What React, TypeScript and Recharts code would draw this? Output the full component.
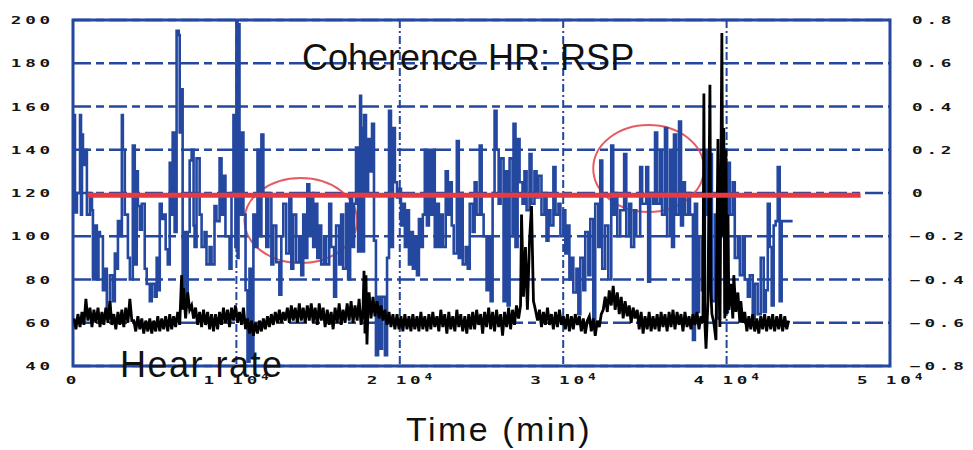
import React from 'react';
import { ComposedChart, Line, XAxis, YAxis, CartesianGrid, ReferenceArea } from 'recharts';

const BLUE = '#2447a0';
const RED = '#e63a42';

const timeTicks = [0, 10000, 20000, 30000, 40000, 50000];
const hrTicks = [40, 60, 80, 100, 120, 140, 160, 180, 200];
const cohTicks = [-0.8, -0.6, -0.4, -0.2, 0, 0.2, 0.4, 0.6, 0.8];

const titleText = 'Coherence HR: RSP';
const hrLabel = 'Hear rate';
const timeLabel = 'Time (min)';

// coherence HR:RSP  [time, coherence]
const coherence: [number, number][] = [
  [60,0.36],[120,-0.09],[240,0.0],[430,0.36],[490,-0.1],[550,0.27],[610,0.13],[730,0.2],[850,-0.1],[1040,0.0],[1160,-0.08],[1220,-0.4],[1340,-0.15],[1460,-0.4],[1560,-0.18],[1650,-0.2],[1830,-0.45],[1950,-0.35],[2070,-0.58],[2260,-0.38],[2440,-0.5],[2560,-0.28],[2680,-0.35],[2750,-0.13],[2870,-0.2],[2990,0.36],[3050,0.2],[3170,-0.1],[3360,-0.3],[3480,-0.4],[3660,0.22],[3780,-0.33],[3900,0.1],[3970,-0.06],[4090,-0.17],[4210,-0.05],[4390,-0.35],[4510,-0.42],[4700,-0.5],[4820,-0.42],[5000,-0.48],[5120,-0.3],[5190,-0.45],[5310,-0.05],[5430,-0.12],[5550,-0.1],[5670,-0.26],[5800,-0.33],[5920,0.14],[6040,-0.1],[6100,0.28],[6220,-0.18],[6340,0.75],[6470,0.73],[6530,0.28],[6650,0.48],[6710,-0.5],[6830,-0.18],[6950,-0.5],[7020,-0.18],[7140,0.15],[7260,0.2],[7380,-0.15],
  [7440,-0.25],[7560,0.16],[7750,-0.1],[7870,-0.25],[8050,-0.18],[8170,-0.33],[8360,-0.25],[8480,-0.33],[8660,-0.06],[8780,-0.13],[8970,0.16],[9090,-0.1],[9210,0.08],[9330,-0.2],[9580,-0.35],[9700,0.0],[9820,0.36],[9940,-0.25],[10000,0.8],[10070,-0.3],[10130,0.78],[10190,-0.1],[10310,0.28],[10430,-0.1],[10560,-0.45],[10680,-0.78],[10800,-0.35],[10920,-0.76],[11040,-0.1],[11160,-0.25],[11290,0.2],[11410,-0.2],[11530,0.27],[11650,0.0],[11830,-0.25],[11960,0.0],[12140,-0.33],[12260,-0.15],[12440,-0.32],[12630,-0.47],[12750,-0.2],[12870,-0.05],[13050,-0.28],[13240,-0.02],[13360,-0.35],[13480,-0.1],[13660,-0.32],[13850,-0.2],[13970,-0.38],[14090,-0.1],[14210,-0.3],[14340,0.04],[14460,-0.2],[14580,0.0],[14700,-0.25],
  [14820,-0.05],[14950,-0.3],[15070,-0.15],[15190,-0.33],[15370,-0.2],[15490,-0.33],[15680,-0.05],[15800,-0.25],[15980,-0.48],[16100,-0.15],[16290,-0.33],[16410,-0.1],[16530,-0.35],[16710,-0.05],[16840,-0.4],[16960,-0.02],[17080,-0.25],[17200,-0.05],[17320,0.21],[17450,-0.27],[17570,0.45],[17630,0.3],[17690,-0.27],[17810,0.36],[17930,0.0],[18060,0.25],[18180,0.1],[18300,0.32],[18420,-0.22],[18540,-0.75],[18670,-0.48],[18790,-0.72],[18910,-0.48],[19090,-0.75],[19220,-0.3],[19340,0.38],[19460,-0.25],[19580,0.3],[19700,0.05],[19830,-0.02],[19950,0.02],[20070,-0.15],[20190,-0.05],[20310,-0.25],[20440,-0.08],[20560,-0.33],[20680,-0.18],[20800,-0.35],[20920,-0.2],[21050,-0.38],[21170,-0.12],[21290,-0.25],[21410,-0.1],[21530,0.2],[21660,-0.15],[21780,0.2],[21900,-0.1],
  [22020,0.2],[22140,-0.25],[22270,-0.05],[22390,-0.25],[22510,-0.1],[22630,-0.25],[22810,0.1],[22940,-0.1],[23060,0.05],[23180,-0.15],[23300,-0.28],[23490,0.24],[23610,-0.3],[23730,0.0],[23850,-0.33],[24030,-0.25],[24160,-0.35],[24280,-0.05],[24460,-0.18],[24580,0.05],[24700,-0.1],[24890,0.22],[25010,-0.1],[25130,-0.2],[25310,-0.45],[25440,-0.2],[25560,-0.5],[25680,0.0],[25800,0.38],[25920,0.2],[26050,-0.05],[26170,0.16],[26350,-0.5],[26470,0.1],[26600,-0.52],[26720,0.16],[26900,-0.2],[26960,0.32],[27080,-0.25],[27210,0.25],[27330,0.05],[27510,-0.05],[27630,0.1],[27760,-0.08],[27940,0.18],[28060,-0.05],[28240,0.1],[28370,-0.02],[28490,0.08],[28670,-0.1],[28850,0.0],[28980,-0.22],[29100,-0.08],
  [29220,-0.15],[29400,0.12],[29530,-0.1],[29710,-0.05],[29830,-0.2],[30010,-0.08],[30130,-0.28],[30260,-0.15],[30380,-0.4],[30500,-0.3],[30620,-0.46],[30810,-0.35],[30930,-0.56],[31050,-0.3],[31230,-0.45],[31350,-0.18],[31540,-0.38],[31660,-0.12],[31840,-0.6],[31960,-0.05],[32150,-0.25],[32270,0.15],[32390,-0.35],[32570,-0.15],[32760,-0.4],[32940,0.22],[33060,-0.1],[33180,0.0],[33310,-0.2],[33490,-0.08],[33730,0.18],[33860,-0.2],[34040,-0.05],[34160,-0.25],[34340,-0.08],[34470,-0.2],[34710,0.12],[34830,-0.05],[35080,0.12],[35200,-0.41],[35320,0.0],[35500,-0.05],[35620,0.28],[35750,-0.05],[35930,0.2],[36050,-0.1],[36230,0.3],[36360,-0.2],[36540,0.2],
  [36660,-0.25],[36780,0.27],[36910,-0.1],[37090,0.33],[37210,-0.15],[37330,0.05],[37450,-0.1],[37640,0.0],[37760,-0.1],[37940,-0.68],[38060,-0.05],[38190,-0.55],[38310,-0.2],[38490,-0.45],[38670,0.2],[38790,-0.1],[38980,0.18],[39100,-0.5],[39280,-0.1],[39410,-0.58],[39590,-0.2],[39770,0.2],[39890,-0.55],[40080,0.14],[40200,-0.1],[40380,0.05],[40500,-0.3],[40690,-0.2],[40810,-0.38],[40990,-0.2],[41110,-0.4],[41300,-0.48],[41420,-0.38],[41600,-0.58],[41720,-0.42],[41900,-0.56],[42090,-0.3],[42270,-0.55],[42400,-0.45],[42520,-0.05],[42640,-0.25],[42760,-0.52],[42880,-0.15],[43000,-0.13],[43130,0.12],[43250,-0.5],[43370,-0.13],[44040,-0.13],
];

// heart rate [time, bpm]
const heartRate: [number, number][] = [
  [60,62],[180,57],[300,64],[430,58],[550,65],[670,59],[790,71],[910,61],[1040,67],[1160,58],[1280,66],[1400,60],[1530,67],[1650,58],[1770,65],[1890,59],[2010,67],[2140,60],[2260,70],[2380,59],[2500,64],[2620,57],[2750,65],[2870,59],[2990,66],[3110,58],[3230,67],[3360,60],[3480,71],[3600,61],[3720,61],[3840,56],[3970,63],[4090,57],[4210,62],[4330,55],[4450,61],[4580,56],[4700,62],[4820,55],[4940,61],[5060,56],[5190,63],[5310,56],[5430,62],[5550,57],[5670,63],[5800,56],[5920,64],[6040,57],[6160,63],[6280,58],[6410,65],[6530,59],[6650,82],[6710,66],[6770,76],[6890,62],[7020,74],[7140,66],[7260,68],[7380,62],
  [7500,67],[7630,59],[7750,65],[7870,58],[7990,66],[8110,59],[8240,65],[8360,57],[8480,64],[8600,56],[8720,64],[8850,57],[8970,65],[9090,59],[9210,67],[9330,60],[9460,66],[9580,58],[9700,67],[9820,61],[9940,68],[10070,60],[10190,65],[10310,59],[10430,67],[10560,57],[10680,62],[10800,55],[10920,61],[11040,54],[11160,60],[11290,55],[11410,61],[11530,56],[11650,62],[11770,57],[11900,63],[12020,58],[12140,64],[12260,59],[12380,65],[12510,60],[12630,66],[12750,60],[12870,65],[12990,61],[13120,67],[13240,60],[13360,68],[13480,61],[13600,67],[13730,60],[13850,69],[13970,61],[14090,67],[14210,60],[14340,68],[14460,61],[14580,69],[14700,60],
  [14820,67],[14950,59],[15070,69],[15190,61],[15310,67],[15430,58],[15560,66],[15680,59],[15800,65],[15920,57],[16040,67],[16170,60],[16290,69],[16410,59],[16530,66],[16650,60],[16780,69],[16900,61],[17020,70],[17140,60],[17260,68],[17390,61],[17510,71],[17630,59],[17750,66],[17810,84],[17870,55],[17930,82],[17990,50],[18060,68],[18120,74],[18240,62],[18360,72],[18480,63],[18610,70],[18730,62],[18850,68],[18970,61],[19090,66],[19220,59],[19340,65],[19460,58],[19580,64],[19700,57],[19830,64],[19950,57],[20070,63],[20190,56],[20310,64],[20440,57],[20560,63],[20680,56],[20800,64],[20920,57],[21050,63],[21170,56],[21290,65],[21410,57],[21530,63],[21660,56],[21780,64],[21900,57],
  [22020,65],[22140,58],[22270,63],[22390,56],[22510,66],[22630,58],[22750,64],[22880,55],[23000,65],[23120,57],[23240,63],[23370,56],[23490,66],[23610,58],[23730,64],[23850,56],[23980,63],[24100,55],[24220,64],[24340,57],[24460,65],[24580,57],[24700,66],[24830,59],[24950,64],[25070,55],[25190,65],[25310,58],[25440,67],[25560,57],[25680,65],[25800,56],[25920,66],[26050,58],[26170,64],[26290,54],[26410,65],[26540,58],[26660,67],[26780,57],[26900,66],[27020,59],[27140,68],[27270,62],[27390,68],[27450,110],[27570,72],[27690,95],[27810,66],[27940,98],[28060,114],[28180,70],[28300,66],[28430,61],[28550,66],[28670,58],[28790,65],[28910,59],[29040,67],
  [29160,59],[29280,64],[29400,57],[29530,65],[29650,58],[29770,66],[29890,59],[30010,63],[30130,57],[30260,64],[30380,56],[30500,63],[30620,57],[30740,64],[30870,59],[30990,63],[31110,56],[31230,62],[31350,55],[31480,61],[31600,63],[31720,56],[31840,62],[31960,54],[32090,61],[32210,58],[32330,64],[32450,66],[32570,72],[32700,65],[32820,75],[32940,68],[33060,77],[33180,66],[33310,74],[33430,64],[33550,72],[33670,62],[33790,70],[33920,63],[34040,68],[34160,60],[34280,67],[34400,62],[34530,66],[34650,57],[34770,65],[34890,55],[35010,63],[35140,57],[35260,65],[35380,56],[35500,63],[35620,57],[35750,64],[35870,56],[35990,65],[36110,58],[36230,64],[36360,56],
  [36480,65],[36600,58],[36720,66],[36840,57],[36970,65],[37090,59],[37210,64],[37330,56],[37450,65],[37580,58],[37700,63],[37820,57],[37940,64],[38060,59],[38190,65],[38310,57],[38430,63],[38550,60],[38610,166],[38670,60],[38740,48],[38860,70],[38980,170],[39040,74],[39100,64],[39220,60],[39350,52],[39470,145],[39530,80],[39590,58],[39710,194],[39770,100],[39830,150],[39890,62],[39960,140],[40020,64],[40080,110],[40140,66],[40260,78],[40380,62],[40440,82],[40570,65],[40690,74],[40810,60],[40870,70],[40990,60],[41110,65],[41240,56],[41360,63],[41480,57],[41600,64],[41720,56],[41850,62],[41970,55],[42090,63],[42210,57],[42330,64],[42450,56],[42580,63],[42700,57],[42820,64],[42940,56],[43070,63],[43190,57],[43310,64],[43430,56],[43560,63],[43680,57],[43800,61],
];

// threshold line (coherence = 0)
const thresholdStart = 900;
const thresholdEnd = 48200;
const thresholdValue = -0.01;

// highlighted regions (ellipses): time range, coherence range
const highlightT1 = [10490, 31840];
const highlightT2 = [17385, 38610];
const highlightC1 = [-0.324, -0.088];
const highlightC2 = [0.069, 0.314];

const cohData = coherence.map(([t, c]) => ({ t, c }));
const hrData = heartRate.map(([t, v]) => ({ t, v }));
const thrData = [
  { t: thresholdStart, c: thresholdValue },
  { t: thresholdEnd, c: thresholdValue },
];

const tickStyle: React.CSSProperties = {
  fontFamily: '"DejaVu Sans Mono", monospace',
  fontWeight: 'bold',
  fontSize: 11,
  letterSpacing: 2.4,
  fill: '#141414',
};

const LeftTick = (props: any) => {
  const { x, y, payload } = props;
  return (
    <g transform={`translate(${x - 19},${y + 4}) scale(1.6,1)`}>
      <text x={0} y={0} textAnchor="end" style={tickStyle}>
        {String(payload.value)}
      </text>
    </g>
  );
};

const fmtCoh = (v: number) => (v === 0 ? '0' : (v < 0 ? '\u2212' : '') + Math.abs(v).toFixed(1));

const RightTick = (props: any) => {
  const { x, y, payload } = props;
  const v = payload.value as number;
  const dx = v < 0 ? 20 : 22;
  return (
    <g transform={`translate(${x + dx},${y + 4}) scale(1.6,1)`}>
      <text x={0} y={0} textAnchor="start" style={tickStyle}>
        {fmtCoh(v)}
      </text>
    </g>
  );
};

const BottomTick = (props: any) => {
  const { x, y, payload } = props;
  const v = payload.value as number;
  if (v === 0) {
    return (
      <g transform={`translate(${x},${y + 18}) scale(1.6,1)`}>
        <text x={0} y={0} textAnchor="middle" style={tickStyle}>0</text>
      </g>
    );
  }
  return (
    <g transform={`translate(${x - 33},${y + 18}) scale(1.6,1)`}>
      <text x={0} y={0} textAnchor="start" style={tickStyle}>
        {`${v / 10000} 10`}
        <tspan dy={-4} style={{ fontSize: 8 }}>4</tspan>
      </text>
    </g>
  );
};

const ellipseShape = (p: any) => {
  const { x, y, width, height } = p;
  if (x == null || y == null) return <g />;
  return (
    <ellipse
      cx={x + width / 2}
      cy={y + height / 2}
      rx={Math.abs(width) / 2}
      ry={Math.abs(height) / 2}
      fill="none"
      stroke="#e24a52"
      strokeOpacity={0.9}
      strokeWidth={2}
    />
  );
};

export default function App() {
  return (
    <div style={{ position: 'absolute', left: 0, top: 0, width: 973, height: 450, background: '#fff' }}>
      <ComposedChart width={973} height={450} margin={{ top: 20, right: 0, bottom: 0, left: 0 }}>
        <XAxis
          dataKey="t"
          type="number"
          domain={[0, 50000]}
          ticks={timeTicks}
          allowDataOverflow
          height={84}
          axisLine={false}
          tickLine={false}
          tickSize={0}
          tickMargin={0}
          tick={<BottomTick />}
          interval={0}
        />
        <YAxis
          yAxisId="hr"
          orientation="left"
          type="number"
          domain={[40, 200]}
          ticks={hrTicks}
          allowDataOverflow
          width={73}
          axisLine={false}
          tickLine={false}
          tickSize={0}
          tickMargin={0}
          tick={<LeftTick />}
          interval={0}
        />
        <YAxis
          yAxisId="coh"
          orientation="right"
          type="number"
          domain={[-0.8, 0.8]}
          ticks={cohTicks}
          allowDataOverflow
          width={83}
          axisLine={false}
          tickLine={false}
          tickSize={0}
          tickMargin={0}
          tick={<RightTick />}
          interval={0}
        />
        <CartesianGrid
          yAxisId="hr"
          vertical={false}
          stroke={BLUE}
          strokeWidth={2.5}
          strokeDasharray="18 5 8 5"
          strokeOpacity={1}
        />
        <CartesianGrid
          yAxisId="hr"
          horizontal={false}
          stroke={BLUE}
          strokeWidth={2}
          strokeDasharray="8 3 2 3"
          strokeOpacity={1}
        />
        <ReferenceArea
          yAxisId="hr"
          x1={0}
          x2={50000}
          y1={40}
          y2={200}
          fill="none"
          fillOpacity={0}
          stroke={BLUE}
          strokeWidth={3}
          ifOverflow="visible"
        />
        <Line
          yAxisId="coh"
          data={cohData}
          dataKey="c"
          type="stepAfter"
          stroke={BLUE}
          strokeWidth={2.6}
          dot={false}
          activeDot={false}
          isAnimationActive={false}
        />
        <Line
          yAxisId="hr"
          data={hrData}
          dataKey="v"
          type="linear"
          stroke="#000"
          strokeWidth={2.8}
          dot={false}
          activeDot={false}
          isAnimationActive={false}
        />
        <Line
          yAxisId="coh"
          data={thrData}
          dataKey="c"
          type="linear"
          stroke={RED}
          strokeWidth={5}
          dot={false}
          activeDot={false}
          isAnimationActive={false}
        />
        <ReferenceArea
          yAxisId="coh"
          x1={highlightT1[0]}
          x2={highlightT2[0]}
          y1={highlightC1[0]}
          y2={highlightC2[0]}
          shape={ellipseShape}
          ifOverflow="visible"
        />
        <ReferenceArea
          yAxisId="coh"
          x1={highlightT1[1]}
          x2={highlightT2[1]}
          y1={highlightC1[1]}
          y2={highlightC2[1]}
          shape={ellipseShape}
          ifOverflow="visible"
        />
      </ComposedChart>
      <svg
        width={973}
        height={450}
        style={{ position: 'absolute', left: 0, top: 0, pointerEvents: 'none' }}
      >
        <text x={302} y={70} style={{ fontFamily: '"Liberation Sans", Arial, sans-serif', fontSize: 36, fill: '#111' }}>
          {titleText}
        </text>
        <text x={120} y={377} style={{ fontFamily: '"Liberation Sans", Arial, sans-serif', fontSize: 36, letterSpacing: 1.5, fill: '#111' }}>
          {hrLabel}
        </text>
        <text x={499} y={441} textAnchor="middle" style={{ fontFamily: '"Liberation Sans", Arial, sans-serif', fontSize: 34, letterSpacing: 2.5, fill: '#111' }}>
          {timeLabel}
        </text>
      </svg>
    </div>
  );
}
